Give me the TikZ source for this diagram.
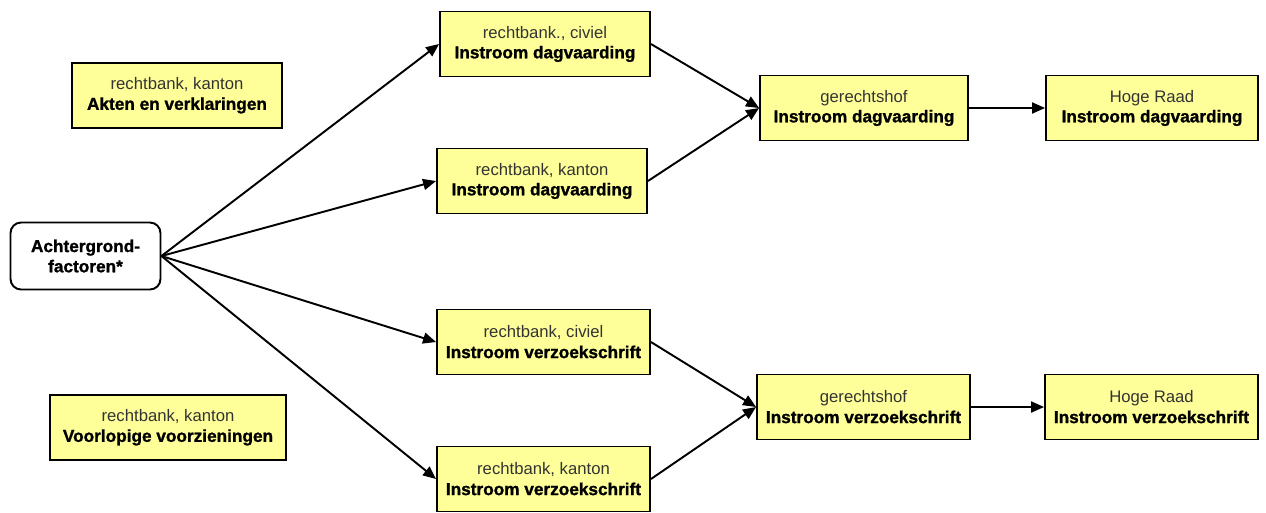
\documentclass[tikz,border=0pt]{standalone}
\usepackage{fontspec}
\setmainfont{Liberation Sans}[BoldFeatures={FakeBold=1.2}]
\usetikzlibrary{arrows.meta, positioning}
\definecolor{boxyellow}{HTML}{FFFF99}
\definecolor{subgrey}{HTML}{333333}

\begin{document}
\begin{tikzpicture}[
    x=0.02cm, y=-0.02cm,
    box/.style={rectangle, draw, fill=boxyellow, line width=1.1pt, minimum height=1.3cm, align=center, font=\fontsize{9.5}{11.5}\selectfont, text=subgrey, inner sep=2pt},
    start/.style={rectangle, rounded corners=6pt, draw, fill=white, line width=1.1pt, minimum width=3cm, minimum height=1.34cm, align=center, font=\fontsize{9.8}{11.5}\selectfont\bfseries},
    arrow/.style={-{Triangle[length=2.6mm, width=2.2mm]}, line width=1.1pt}
]
\newcommand{\main}[1]{{\color{black}\fontsize{9.8}{11.5}\selectfont\bfseries #1}}
\useasboundingbox (0,0) rectangle (1266,512);
\node[start] (bg) at (85.5,256) {Achtergrond-\\factoren*};
\node[box, minimum width=4.2cm] (akten) at (177,95.5) {rechtbank, kanton\\\main{Akten en verklaringen}};
\node[box, minimum width=4.72cm] (voorl) at (168,427.5) {rechtbank, kanton\\\main{Voorlopige voorzieningen}};
\node[box, minimum width=4.2cm] (rcdag) at (545,44) {rechtbank., civiel\\\main{Instroom dagvaarding}};
\node[box, minimum width=4.2cm] (rkdag) at (542,181) {rechtbank, kanton\\\main{Instroom dagvaarding}};
\node[box, minimum width=4.26cm] (rcverz) at (543.5,342) {rechtbank, civiel\\\main{Instroom verzoekschrift}};
\node[box, minimum width=4.26cm] (rkverz) at (543.5,479) {rechtbank, kanton\\\main{Instroom verzoekschrift}};
\node[box, minimum width=4.16cm] (hofdag) at (864,108) {gerechtshof\\\main{Instroom dagvaarding}};
\node[box, minimum width=4.26cm] (hofverz) at (863.5,407) {gerechtshof\\\main{Instroom verzoekschrift}};
\node[box, minimum width=4.24cm] (hrdag) at (1152,108) {Hoge Raad\\\main{Instroom dagvaarding}};
\node[box, minimum width=4.26cm] (hrverz) at (1151.5,407) {Hoge Raad\\\main{Instroom verzoekschrift}};
\draw[arrow] (bg.east) -- (rcdag.west);
\draw[arrow] (bg.east) -- (rkdag.west);
\draw[arrow] (bg.east) -- (rcverz.west);
\draw[arrow] (bg.east) -- (rkverz.west);
\draw[arrow] (rcdag.east) -- (hofdag.west);
\draw[arrow] (rkdag.east) -- (hofdag.west);
\draw[arrow] (rcverz.east) -- (hofverz.west);
\draw[arrow] (rkverz.east) -- (hofverz.west);
\draw[arrow] (hofdag) -- (hrdag);
\draw[arrow] (hofverz) -- (hrverz);
\end{tikzpicture}
\end{document}
